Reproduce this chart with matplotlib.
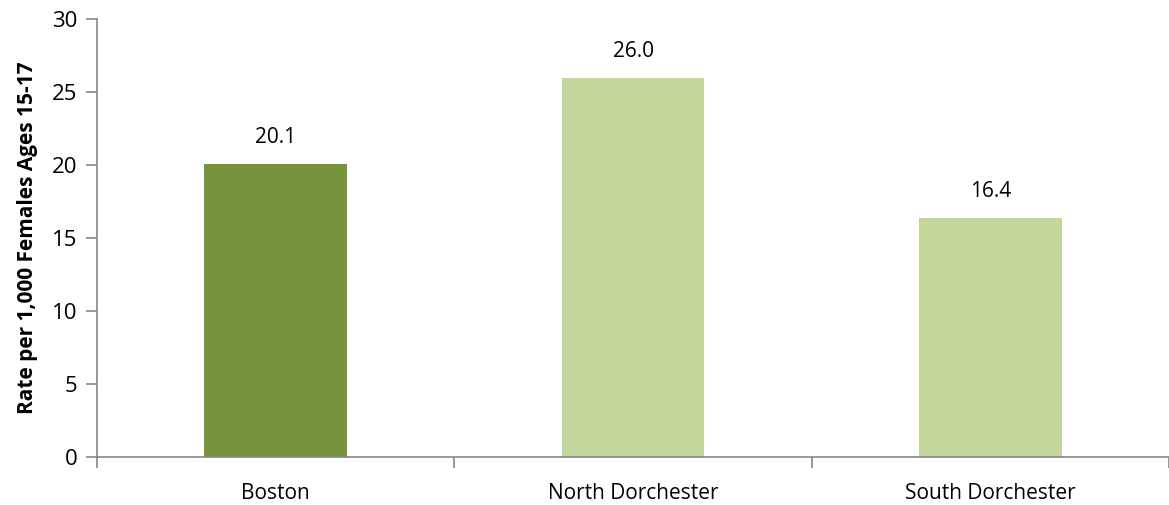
import matplotlib.pyplot as plt
from matplotlib.ticker import FixedLocator

# Teen birth rate per 1,000 females ages 15-17
areas = ["Boston", "North Dorchester", "South Dorchester"]
rates = [20.1, 26.0, 16.4]
bar_colors = ["#77933C", "#C3D69B", "#C3D69B"]

plt.rcParams['font.family'] = ['Open Sans', 'DejaVu Sans']

fig = plt.figure(figsize=(11.69, 5.05), dpi=100)
ax = fig.add_axes([0.083, 0.095, 0.917, 0.867])

x = range(len(areas))
bars = ax.bar(x, rates, width=0.4, color=bar_colors)

for b, v in zip(bars, rates):
    ax.text(b.get_x() + b.get_width() / 2, v + 1.1, f"{v:.1f}",
            ha="center", va="bottom", fontsize=15, color="#000000")

ax.set_xlim(-0.5, len(areas) - 0.5)
ax.set_ylim(0, 30)
ax.set_yticks(range(0, 31, 5))
ax.set_xticks(list(x))
ax.set_xticklabels(areas, fontsize=15)
ax.xaxis.set_minor_locator(FixedLocator([-0.5, 0.5, 1.5, 2.5]))
ax.tick_params(axis="x", which="major", length=0, pad=19)
ax.tick_params(axis="x", which="minor", length=8, color="#868686", width=1.2)
ax.tick_params(axis="y", length=8, color="#868686", width=1.2, labelsize=16, pad=6)

ax.set_ylabel("Rate per 1,000 Females Ages 15-17", fontsize=15,
              fontweight="bold", labelpad=10)

for side in ["top", "right"]:
    ax.spines[side].set_visible(False)
for side in ["left", "bottom"]:
    ax.spines[side].set_color("#868686")
    ax.spines[side].set_linewidth(1.2)

fig.savefig("out.png", dpi=100)
